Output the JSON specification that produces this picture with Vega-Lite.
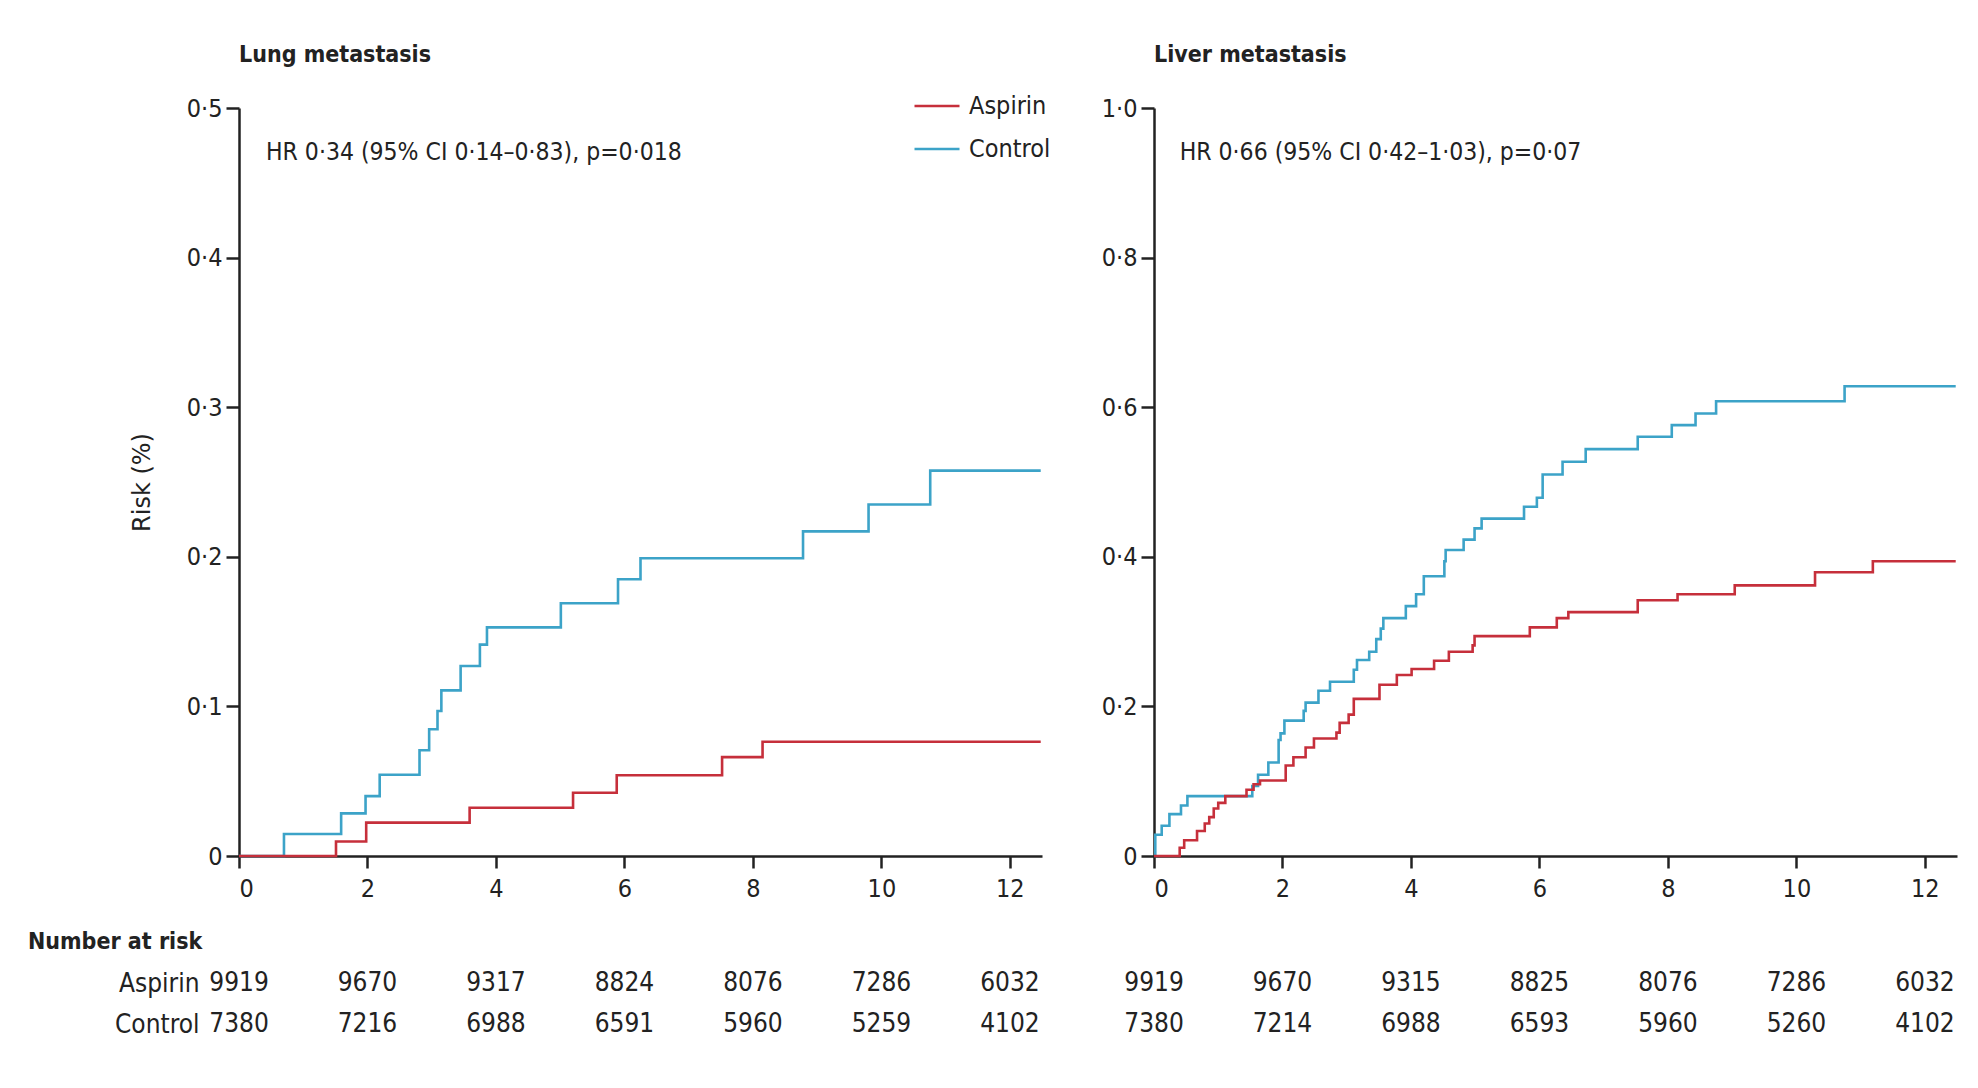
{
  "$schema": "https://vega.github.io/schema/vega-lite/v6.json",
  "background": "white",
  "padding": {"left": 27, "top": 44, "right": 16, "bottom": 20},
  "columns": 2,
  "spacing": {"row": 86, "column": 112},
  "bounds": "flush",
  "resolve": {"scale": {"color": "independent"}, "legend": {"color": "independent"}},
  "datasets": {
    "lung": [
      {"group": "Control", "t": 0, "risk": 0},
      {"group": "Control", "t": 0.70, "risk": 0.0147},
      {"group": "Control", "t": 1.59, "risk": 0.0285},
      {"group": "Control", "t": 1.97, "risk": 0.040},
      {"group": "Control", "t": 2.19, "risk": 0.0543},
      {"group": "Control", "t": 2.81, "risk": 0.0707},
      {"group": "Control", "t": 2.96, "risk": 0.0847},
      {"group": "Control", "t": 3.09, "risk": 0.0969},
      {"group": "Control", "t": 3.15, "risk": 0.1107},
      {"group": "Control", "t": 3.45, "risk": 0.127},
      {"group": "Control", "t": 3.75, "risk": 0.1413},
      {"group": "Control", "t": 3.86, "risk": 0.1528},
      {"group": "Control", "t": 5.01, "risk": 0.169},
      {"group": "Control", "t": 5.90, "risk": 0.185},
      {"group": "Control", "t": 6.25, "risk": 0.199},
      {"group": "Control", "t": 8.78, "risk": 0.217},
      {"group": "Control", "t": 9.80, "risk": 0.235},
      {"group": "Control", "t": 10.76, "risk": 0.2576},
      {"group": "Control", "t": 12.48, "risk": 0.2576},
      {"group": "Aspirin", "t": 0, "risk": 0},
      {"group": "Aspirin", "t": 1.51, "risk": 0.0097},
      {"group": "Aspirin", "t": 1.98, "risk": 0.0223},
      {"group": "Aspirin", "t": 3.59, "risk": 0.0323},
      {"group": "Aspirin", "t": 5.20, "risk": 0.0423},
      {"group": "Aspirin", "t": 5.88, "risk": 0.054},
      {"group": "Aspirin", "t": 7.52, "risk": 0.0661},
      {"group": "Aspirin", "t": 8.15, "risk": 0.0764},
      {"group": "Aspirin", "t": 12.48, "risk": 0.0764}
    ],
    "liver": [
      {"group": "Control", "t": 0, "risk": 0},
      {"group": "Control", "t": 0.02, "risk": 0.0285},
      {"group": "Control", "t": 0.12, "risk": 0.0405},
      {"group": "Control", "t": 0.24, "risk": 0.056},
      {"group": "Control", "t": 0.42, "risk": 0.0676},
      {"group": "Control", "t": 0.52, "risk": 0.080},
      {"group": "Control", "t": 1.53, "risk": 0.0936},
      {"group": "Control", "t": 1.62, "risk": 0.1087},
      {"group": "Control", "t": 1.78, "risk": 0.125},
      {"group": "Control", "t": 1.94, "risk": 0.155},
      {"group": "Control", "t": 1.97, "risk": 0.164},
      {"group": "Control", "t": 2.03, "risk": 0.181},
      {"group": "Control", "t": 2.33, "risk": 0.194},
      {"group": "Control", "t": 2.36, "risk": 0.205},
      {"group": "Control", "t": 2.56, "risk": 0.221},
      {"group": "Control", "t": 2.74, "risk": 0.233},
      {"group": "Control", "t": 3.11, "risk": 0.249},
      {"group": "Control", "t": 3.16, "risk": 0.262},
      {"group": "Control", "t": 3.35, "risk": 0.273},
      {"group": "Control", "t": 3.46, "risk": 0.290},
      {"group": "Control", "t": 3.53, "risk": 0.304},
      {"group": "Control", "t": 3.57, "risk": 0.318},
      {"group": "Control", "t": 3.92, "risk": 0.334},
      {"group": "Control", "t": 4.08, "risk": 0.350},
      {"group": "Control", "t": 4.20, "risk": 0.374},
      {"group": "Control", "t": 4.52, "risk": 0.394},
      {"group": "Control", "t": 4.54, "risk": 0.409},
      {"group": "Control", "t": 4.82, "risk": 0.423},
      {"group": "Control", "t": 4.99, "risk": 0.438},
      {"group": "Control", "t": 5.10, "risk": 0.451},
      {"group": "Control", "t": 5.76, "risk": 0.467},
      {"group": "Control", "t": 5.96, "risk": 0.479},
      {"group": "Control", "t": 6.05, "risk": 0.510},
      {"group": "Control", "t": 6.36, "risk": 0.527},
      {"group": "Control", "t": 6.72, "risk": 0.544},
      {"group": "Control", "t": 7.53, "risk": 0.5605},
      {"group": "Control", "t": 8.06, "risk": 0.576},
      {"group": "Control", "t": 8.43, "risk": 0.5916},
      {"group": "Control", "t": 8.75, "risk": 0.608},
      {"group": "Control", "t": 10.75, "risk": 0.628},
      {"group": "Control", "t": 12.48, "risk": 0.628},
      {"group": "Aspirin", "t": 0, "risk": 0},
      {"group": "Aspirin", "t": 0.40, "risk": 0.011},
      {"group": "Aspirin", "t": 0.47, "risk": 0.021},
      {"group": "Aspirin", "t": 0.67, "risk": 0.0335},
      {"group": "Aspirin", "t": 0.79, "risk": 0.0435},
      {"group": "Aspirin", "t": 0.86, "risk": 0.052},
      {"group": "Aspirin", "t": 0.93, "risk": 0.0636},
      {"group": "Aspirin", "t": 1.00, "risk": 0.071},
      {"group": "Aspirin", "t": 1.11, "risk": 0.080},
      {"group": "Aspirin", "t": 1.44, "risk": 0.0886},
      {"group": "Aspirin", "t": 1.55, "risk": 0.096},
      {"group": "Aspirin", "t": 1.65, "risk": 0.101},
      {"group": "Aspirin", "t": 2.05, "risk": 0.121},
      {"group": "Aspirin", "t": 2.17, "risk": 0.132},
      {"group": "Aspirin", "t": 2.36, "risk": 0.145},
      {"group": "Aspirin", "t": 2.49, "risk": 0.157},
      {"group": "Aspirin", "t": 2.84, "risk": 0.165},
      {"group": "Aspirin", "t": 2.89, "risk": 0.178},
      {"group": "Aspirin", "t": 3.03, "risk": 0.189},
      {"group": "Aspirin", "t": 3.11, "risk": 0.210},
      {"group": "Aspirin", "t": 3.51, "risk": 0.229},
      {"group": "Aspirin", "t": 3.78, "risk": 0.242},
      {"group": "Aspirin", "t": 4.01, "risk": 0.250},
      {"group": "Aspirin", "t": 4.36, "risk": 0.261},
      {"group": "Aspirin", "t": 4.59, "risk": 0.273},
      {"group": "Aspirin", "t": 4.96, "risk": 0.2816},
      {"group": "Aspirin", "t": 4.99, "risk": 0.294},
      {"group": "Aspirin", "t": 5.85, "risk": 0.3057},
      {"group": "Aspirin", "t": 6.27, "risk": 0.318},
      {"group": "Aspirin", "t": 6.45, "risk": 0.326},
      {"group": "Aspirin", "t": 7.53, "risk": 0.342},
      {"group": "Aspirin", "t": 8.15, "risk": 0.350},
      {"group": "Aspirin", "t": 9.04, "risk": 0.3618},
      {"group": "Aspirin", "t": 10.29, "risk": 0.3794},
      {"group": "Aspirin", "t": 11.19, "risk": 0.394},
      {"group": "Aspirin", "t": 12.48, "risk": 0.394}
    ],
    "lungRisk": [
      {"group": "Aspirin", "t": 0, "n": "9919"},
      {"group": "Aspirin", "t": 2, "n": "9670"},
      {"group": "Aspirin", "t": 4, "n": "9317"},
      {"group": "Aspirin", "t": 6, "n": "8824"},
      {"group": "Aspirin", "t": 8, "n": "8076"},
      {"group": "Aspirin", "t": 10, "n": "7286"},
      {"group": "Aspirin", "t": 12, "n": "6032"},
      {"group": "Control", "t": 0, "n": "7380"},
      {"group": "Control", "t": 2, "n": "7216"},
      {"group": "Control", "t": 4, "n": "6988"},
      {"group": "Control", "t": 6, "n": "6591"},
      {"group": "Control", "t": 8, "n": "5960"},
      {"group": "Control", "t": 10, "n": "5259"},
      {"group": "Control", "t": 12, "n": "4102"}
    ],
    "liverRisk": [
      {"group": "Aspirin", "t": 0, "n": "9919"},
      {"group": "Aspirin", "t": 2, "n": "9670"},
      {"group": "Aspirin", "t": 4, "n": "9315"},
      {"group": "Aspirin", "t": 6, "n": "8825"},
      {"group": "Aspirin", "t": 8, "n": "8076"},
      {"group": "Aspirin", "t": 10, "n": "7286"},
      {"group": "Aspirin", "t": 12, "n": "6032"},
      {"group": "Control", "t": 0, "n": "7380"},
      {"group": "Control", "t": 2, "n": "7214"},
      {"group": "Control", "t": 4, "n": "6988"},
      {"group": "Control", "t": 6, "n": "6593"},
      {"group": "Control", "t": 8, "n": "5960"},
      {"group": "Control", "t": 10, "n": "5260"},
      {"group": "Control", "t": 12, "n": "4102"}
    ]
  },
  "concat": [
    {
      "width": 803,
      "height": 748,
      "title": {"text": "Lung metastasis", "anchor": "start", "frame": "group", "fontSize": 23, "fontWeight": "bold", "color": "#222222", "offset": 24},
      "layer": [
        {
          "data": {"name": "lung"},
          "mark": {"type": "line", "interpolate": "step-after", "strokeWidth": 2.6},
          "encoding": {
            "x": {"field": "t", "type": "quantitative", "scale": {"domain": [0, 12.5], "nice": false},
                  "axis": {"values": [0, 2, 4, 6, 8, 10, 12], "format": "d", "title": null, "tickSize": 12, "labelPadding": 8}},
            "y": {"field": "risk", "type": "quantitative", "scale": {"domain": [0, 0.5], "nice": false},
                  "axis": {"values": [0, 0.1, 0.2, 0.3, 0.4, 0.5],
                           "labelExpr": "datum.value == 0 ? '0' : replace(format(datum.value, '.1f'), '.', '·')",
                           "title": "Risk (%)", "titleFont": "DejaVu Sans", "titleFontSize": 24, "titleFontWeight": "normal",
                           "titleColor": "#222222", "titlePadding": 32}},
            "color": {"field": "group", "type": "nominal",
                      "scale": {"domain": ["Aspirin", "Control"], "range": ["#c62f3b", "#3ca3c8"]},
                      "legend": {"orient": "none", "legendX": 674, "legendY": -17, "title": null,
                                 "symbolType": "stroke", "symbolSize": 2025, "symbolStrokeWidth": 2.6,
                                 "labelFontSize": 25, "labelColor": "#222222", "labelOffset": 8, "rowPadding": 13, "clipHeight": 30}}
          }
        },
        {
          "data": {"values": [{"label": "HR 0·34 (95% CI 0·14–0·83), p=0·018"}]},
          "mark": {"type": "text", "align": "left", "baseline": "alphabetic", "fontSize": 24.5, "color": "#222222"},
          "encoding": {"x": {"datum": 0.42}, "y": {"datum": 0.465}, "text": {"field": "label"}}
        }
      ]
    },
    {
      "width": 803,
      "height": 748,
      "title": {"text": "Liver metastasis", "anchor": "start", "frame": "group", "fontSize": 23, "fontWeight": "bold", "color": "#222222", "offset": 29},
      "layer": [
        {
          "data": {"name": "liver"},
          "mark": {"type": "line", "interpolate": "step-after", "strokeWidth": 2.6},
          "encoding": {
            "x": {"field": "t", "type": "quantitative", "scale": {"domain": [0, 12.5], "nice": false},
                  "axis": {"values": [0, 2, 4, 6, 8, 10, 12], "format": "d", "title": null, "tickSize": 12, "labelPadding": 8}},
            "y": {"field": "risk", "type": "quantitative", "scale": {"domain": [0, 1], "nice": false},
                  "axis": {"values": [0, 0.2, 0.4, 0.6, 0.8, 1.0],
                           "labelExpr": "datum.value == 0 ? '0' : replace(format(datum.value, '.1f'), '.', '·')",
                           "title": null}},
            "color": {"field": "group", "type": "nominal",
                      "scale": {"domain": ["Aspirin", "Control"], "range": ["#c62f3b", "#3ca3c8"]},
                      "legend": null}
          }
        },
        {
          "data": {"values": [{"label": "HR 0·66 (95% CI 0·42–1·03), p=0·07"}]},
          "mark": {"type": "text", "align": "left", "baseline": "alphabetic", "fontSize": 24.5, "color": "#222222"},
          "encoding": {"x": {"datum": 0.40}, "y": {"datum": 0.93}, "text": {"field": "label"}}
        }
      ]
    },
    {
      "width": 803,
      "height": 82,
      "layer": [
        {
          "data": {"name": "lungRisk"},
          "mark": {"type": "text", "align": "center", "baseline": "middle", "fontSize": 26, "color": "#222222"},
          "encoding": {
            "x": {"field": "t", "type": "quantitative", "scale": {"domain": [0, 12.5], "nice": false}, "axis": null},
            "y": {"field": "group", "type": "nominal",
                  "scale": {"domain": ["Number at risk", "Aspirin", "Control"], "padding": 0},
                  "axis": {"values": ["Aspirin", "Control"], "domain": false, "ticks": false, "labelPadding": 40,
                           "labelFontSize": 26, "labelBaseline": "middle", "title": null}},
            "text": {"field": "n", "type": "nominal"}
          }
        },
        {
          "data": {"values": [{"label": "Number at risk"}]},
          "mark": {"type": "text", "align": "left", "baseline": "middle", "fontSize": 23, "fontWeight": "bold", "color": "#222222"},
          "encoding": {"x": {"datum": -3.285}, "y": {"datum": "Number at risk"}, "text": {"field": "label"}}
        }
      ]
    },
    {
      "width": 803,
      "height": 82,
      "data": {"name": "liverRisk"},
      "mark": {"type": "text", "align": "center", "baseline": "middle", "fontSize": 26, "color": "#222222"},
      "encoding": {
        "x": {"field": "t", "type": "quantitative", "scale": {"domain": [0, 12.5], "nice": false}, "axis": null},
        "y": {"field": "group", "type": "nominal",
              "scale": {"domain": ["Number at risk", "Aspirin", "Control"], "padding": 0}, "axis": null},
        "text": {"field": "n", "type": "nominal"}
      }
    }
  ],
  "config": {
    "font": "DejaVu Sans Condensed, DejaVu Sans, sans-serif",
    "view": {"stroke": null},
    "axis": {
      "grid": false,
      "domainColor": "#222222",
      "domainWidth": 2.5,
      "tickColor": "#222222",
      "tickWidth": 2.5,
      "tickSize": 13,
      "labelPadding": 4,
      "labelFontSize": 25,
      "labelColor": "#222222",
      "labelFont": "DejaVu Sans Condensed, DejaVu Sans, sans-serif"
    }
  }
}
